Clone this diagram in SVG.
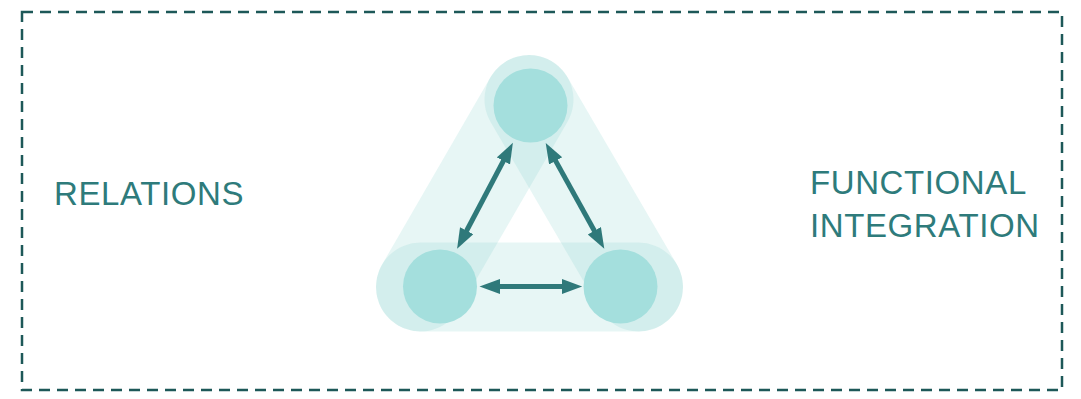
<svg xmlns="http://www.w3.org/2000/svg" width="1081" height="399" viewBox="0 0 1081 399">
  <style>
    .frame { fill: none; stroke: #1d5858; stroke-width: 2.5; stroke-dasharray: 11 7; }
    .band { fill: none; stroke: #86d2cf; stroke-opacity: 0.2; stroke-width: 89; stroke-linecap: round; }
    .core { fill: #a4dfdd; }
    .link { stroke: #2f797a; stroke-width: 5; fill: none; marker-start: url(#head); marker-end: url(#head); }
    .label { font-family: "Liberation Sans", Arial, sans-serif; font-size: 33px; letter-spacing: 0.6px; fill: #2e7b7b; }
  </style>
  <defs>
    <!-- arrowhead: the shaft ends halfway into the triangle, the tip reaches 10px beyond -->
    <marker id="head" markerUnits="userSpaceOnUse" markerWidth="21" markerHeight="16" refX="10" refY="7.5" orient="auto-start-reverse">
      <path d="M0,0 L20.5,7.5 L0,15 Z" fill="#2f797a"/>
    </marker>
  </defs>

  <rect class="frame" x="22" y="12" width="1040" height="378"/>

  <g id="halo">
    <line class="band" x1="529" y1="99.5" x2="420.5" y2="287"/>
    <line class="band" x1="529" y1="99.5" x2="638.5" y2="287"/>
    <line class="band" x1="420.5" y1="287" x2="638.5" y2="287"/>
  </g>

  <g id="node-top"><circle class="core" cx="530.5" cy="105.5" r="37"/></g>
  <g id="node-left"><circle class="core" cx="440" cy="286.5" r="37"/></g>
  <g id="node-right"><circle class="core" cx="620.5" cy="286.5" r="37"/></g>

  <g id="connectors">
    <line class="link" x1="508" y1="152.1" x2="462" y2="239.5"/>
    <line class="link" x1="550.8" y1="152.1" x2="599.2" y2="239.5"/>
    <line class="link" x1="490" y1="286.5" x2="571.7" y2="286.5"/>
  </g>

  <g id="relations">
    <text class="label" x="54" y="205">RELATIONS</text>
  </g>
  <g id="functional-integration">
    <text class="label" x="810" y="193.5">FUNCTIONAL</text>
    <text class="label" x="810" y="237">INTEGRATION</text>
  </g>
</svg>
